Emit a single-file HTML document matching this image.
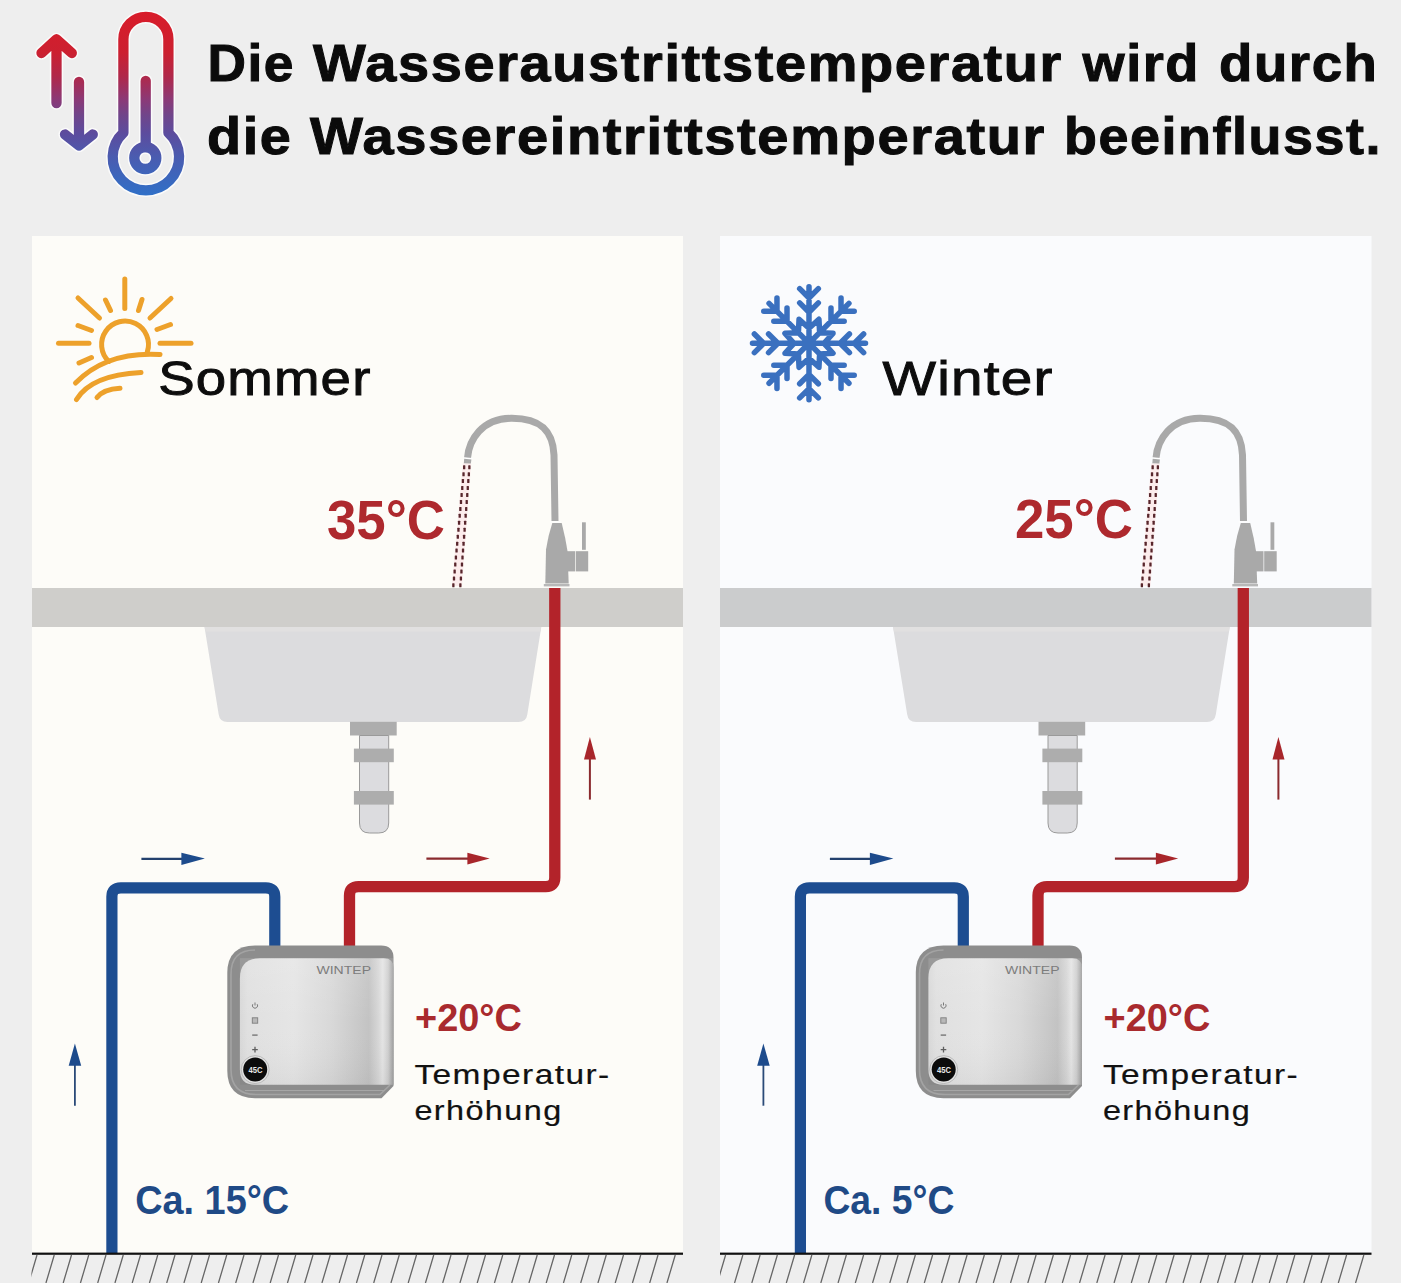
<!DOCTYPE html>
<html><head><meta charset="utf-8"><title>Wassertemperatur</title>
<style>html,body{margin:0;padding:0;background:#eeeeee;width:1401px;height:1283px;overflow:hidden}svg{display:block;font-family:"Liberation Sans",sans-serif}</style>
</head><body><svg width="1401" height="1283" viewBox="0 0 1401 1283"><defs><linearGradient id="thermo" gradientUnits="userSpaceOnUse" x1="0" y1="12" x2="0" y2="196">
<stop offset="0" stop-color="#d81c2a"/><stop offset="0.22" stop-color="#cc2030"/><stop offset="0.35" stop-color="#b0284a"/><stop offset="0.48" stop-color="#8a3a78"/><stop offset="0.56" stop-color="#70458a"/><stop offset="0.66" stop-color="#5c4c9e"/><stop offset="0.79" stop-color="#4a5cb0"/><stop offset="1" stop-color="#2f70c8"/></linearGradient><linearGradient id="face" x1="0" y1="0" x2="1" y2="0">
<stop offset="0" stop-color="#d8d8d8"/><stop offset="0.05" stop-color="#e0e0e0"/><stop offset="0.35" stop-color="#e5e5e5"/><stop offset="0.6" stop-color="#d8d8d8"/><stop offset="0.84" stop-color="#c3c3c3"/><stop offset="0.9" stop-color="#d6d6d6"/><stop offset="0.93" stop-color="#e4e4e4"/><stop offset="0.965" stop-color="#cfcfcf"/><stop offset="1" stop-color="#9e9e9e"/></linearGradient><linearGradient id="facev" x1="0" y1="0" x2="0" y2="1"><stop offset="0" stop-color="#ffffff" stop-opacity="0.12"/><stop offset="0.5" stop-color="#ffffff" stop-opacity="0"/><stop offset="1" stop-color="#000000" stop-opacity="0.04"/></linearGradient>
<linearGradient id="shell" x1="0" y1="0" x2="0" y2="1">
<stop offset="0" stop-color="#8a8a8a"/><stop offset="0.5" stop-color="#9a9a9a"/><stop offset="1" stop-color="#8e8e8e"/></linearGradient></defs><rect x="0" y="0" width="1401" height="1283" fill="#eeeeee"/><rect x="32" y="236" width="651" height="1017" fill="#fdfcf8"/><rect x="720" y="236" width="651.5" height="1017" fill="#fafbfd"/><rect x="32" y="588" width="651" height="39" fill="#cfcecb"/><rect x="720" y="588" width="651.5" height="39" fill="#cbcccd"/><g><path d="M204.5 627 L541.3 627 L527.3 714.5 Q526.3 722 518.5 722 L227.5 722 Q219.7 722 218.7 714.5 Z" fill="#dcdcde"/><path d="M204.7 627 L541.1 627 L540.4 631.5 L205.4 631.5 Z" fill="#e1e0e0"/><rect x="350" y="721.8" width="46.7" height="13.7" fill="#adadad"/><path d="M359.5 735.5 L359.5 823 Q359.5 833 369.5 833 L378.7 833 Q388.7 833 388.7 823 L388.7 735.5 Z" fill="#dcdcdf" stroke="#9a9a9a" stroke-width="1"/><rect x="353.9" y="748.6" width="39.9" height="13.6" fill="#adadad"/><rect x="353.9" y="791" width="39.9" height="13.6" fill="#adadad"/><path d="M554.8 588 L554.8 877.6 Q554.8 886.6 545.8 886.6 L358.5 886.6 Q349.5 886.6 349.5 895.6 L349.5 948" fill="none" stroke="#b3232a" stroke-width="11.3"/><path d="M111.9 1254 L111.9 896.8 Q111.9 887.8 120.9 887.8 L265.8 887.8 Q274.8 887.8 274.8 896.8 L274.8 948" fill="none" stroke="#1d4d91" stroke-width="11.2"/><line x1="141.4" y1="858.9" x2="183" y2="858.9" stroke="#23416e" stroke-width="2.1"/><path d="M181.4 852.8 L204.9 858.6 L181.4 865 Z" fill="#1d4b8c"/><line x1="426.4" y1="858.6" x2="469" y2="858.6" stroke="#8a2a2e" stroke-width="2.1"/><path d="M467.4 852.8 L489.7 858.4 L467.4 864.6 Z" fill="#a8262b"/><line x1="589.9" y1="758" x2="589.9" y2="799.6" stroke="#8b2a2e" stroke-width="2"/><path d="M584 759.4 L589.9 737 L596 759.4 Z" fill="#a8262b"/><line x1="74.9" y1="1064" x2="74.9" y2="1105.7" stroke="#2a4a78" stroke-width="1.8"/><path d="M68.7 1065.8 L74.9 1043.4 L81.2 1065.8 Z" fill="#1d4b8c"/><path d="M467.5 458 C469 440 482 418.5 511 418.3 C542 418 553 432 554 455 L555 521" fill="none" stroke="#a9a9a9" stroke-width="7"/><line x1="463.5" y1="457.8" x2="472.5" y2="458.6" stroke="#ffffff" stroke-width="1.2"/><path d="M464.2 458.8 L471.4 459.4 L470.8 464 L463.8 463.4 Z" fill="#a9a9a9"/><line x1="550" y1="522" x2="561" y2="522" stroke="#ffffff" stroke-width="1.2"/><path d="M552.3 523 L561.7 523 Q565.5 538 567.5 551 L568.7 583.5 L545.3 583.5 L546 549.6 Q548 536 552.3 523 Z" fill="#a9a9a9"/><rect x="567" y="551.2" width="8" height="20.2" fill="#a9a9a9"/><rect x="575.7" y="551.2" width="12.5" height="20.2" fill="#a9a9a9"/><rect x="582" y="522.3" width="3.8" height="27.5" fill="#a9a9a9"/><rect x="543.8" y="584" width="25.7" height="2.4" fill="#b8b8b8"/><path d="M462.8 463.5 L471.2 463.5 L462 586 L451.8 586 Z" fill="#fcecec"/><rect x="463.01" y="465.2" width="2.3" height="4" fill="#58262c" rx="0.5"/><rect x="468.22" y="465.2" width="2.3" height="4" fill="#58262c" rx="0.5"/><rect x="462.38" y="472.15" width="2.3" height="4" fill="#58262c" rx="0.5"/><rect x="467.69" y="472.15" width="2.3" height="4" fill="#58262c" rx="0.5"/><rect x="461.74" y="479.1" width="2.3" height="4" fill="#58262c" rx="0.5"/><rect x="467.16" y="479.1" width="2.3" height="4" fill="#58262c" rx="0.5"/><rect x="461.11" y="486.05" width="2.3" height="4" fill="#58262c" rx="0.5"/><rect x="466.63" y="486.05" width="2.3" height="4" fill="#58262c" rx="0.5"/><rect x="460.47" y="493" width="2.3" height="4" fill="#58262c" rx="0.5"/><rect x="466.1" y="493" width="2.3" height="4" fill="#58262c" rx="0.5"/><rect x="459.84" y="499.95" width="2.3" height="4" fill="#58262c" rx="0.5"/><rect x="465.57" y="499.95" width="2.3" height="4" fill="#58262c" rx="0.5"/><rect x="459.2" y="506.9" width="2.3" height="4" fill="#58262c" rx="0.5"/><rect x="465.04" y="506.9" width="2.3" height="4" fill="#58262c" rx="0.5"/><rect x="458.57" y="513.85" width="2.3" height="4" fill="#58262c" rx="0.5"/><rect x="464.52" y="513.85" width="2.3" height="4" fill="#58262c" rx="0.5"/><rect x="457.93" y="520.8" width="2.3" height="4" fill="#58262c" rx="0.5"/><rect x="463.99" y="520.8" width="2.3" height="4" fill="#58262c" rx="0.5"/><rect x="457.3" y="527.75" width="2.3" height="4" fill="#58262c" rx="0.5"/><rect x="463.46" y="527.75" width="2.3" height="4" fill="#58262c" rx="0.5"/><rect x="456.66" y="534.7" width="2.3" height="4" fill="#58262c" rx="0.5"/><rect x="462.93" y="534.7" width="2.3" height="4" fill="#58262c" rx="0.5"/><rect x="456.03" y="541.65" width="2.3" height="4" fill="#58262c" rx="0.5"/><rect x="462.4" y="541.65" width="2.3" height="4" fill="#58262c" rx="0.5"/><rect x="455.39" y="548.6" width="2.3" height="4" fill="#58262c" rx="0.5"/><rect x="461.87" y="548.6" width="2.3" height="4" fill="#58262c" rx="0.5"/><rect x="454.76" y="555.55" width="2.3" height="4" fill="#58262c" rx="0.5"/><rect x="461.34" y="555.55" width="2.3" height="4" fill="#58262c" rx="0.5"/><rect x="454.12" y="562.5" width="2.3" height="4" fill="#58262c" rx="0.5"/><rect x="460.81" y="562.5" width="2.3" height="4" fill="#58262c" rx="0.5"/><rect x="453.49" y="569.45" width="2.3" height="4" fill="#58262c" rx="0.5"/><rect x="460.28" y="569.45" width="2.3" height="4" fill="#58262c" rx="0.5"/><rect x="452.85" y="576.4" width="2.3" height="4" fill="#58262c" rx="0.5"/><rect x="459.75" y="576.4" width="2.3" height="4" fill="#58262c" rx="0.5"/><rect x="452.22" y="583.35" width="2.3" height="4" fill="#58262c" rx="0.5"/><rect x="459.22" y="583.35" width="2.3" height="4" fill="#58262c" rx="0.5"/><path d="M255 945.5 L381 945.5 Q393.5 945.5 393.5 958 L393.5 1086 L381.5 1098.2 L255 1098.2 Q227.3 1098.2 227.3 1070.5 L227.3 973 Q227.3 945.5 255 945.5 Z" fill="#8d8d8d"/><path d="M255 950 Q231 950 231 974 L231 1069.5 Q231 1094.5 256 1094.5 L380 1094.5 L390 1085" fill="none" stroke="#a3a3a3" stroke-width="1.6"/><path d="M259.9 958.2 L384 958.2 Q393.5 958.2 393.5 967.7 L393.5 1084.7 L254.9 1084.7 Q239.9 1084.7 239.9 1069.7 L239.9 978.2 Q239.9 958.2 259.9 958.2 Z" fill="url(#face)"/><rect x="239.9" y="958.2" width="153.6" height="126.5" fill="url(#facev)"/><line x1="245" y1="1090.5" x2="385" y2="1090.5" stroke="#a6a6a6" stroke-width="1.2"/><text x="316.5" y="973.5" font-family="Liberation Sans" font-size="11.5" fill="#7c7c7c" textLength="54.5" lengthAdjust="spacingAndGlyphs">WINTEP</text><path d="M252.8 1004.2 A2.6 2.6 0 1 0 257.2 1004.2" fill="none" stroke="#7a7a7a" stroke-width="1"/><line x1="255" y1="1002.5" x2="255" y2="1005.5" stroke="#7a7a7a" stroke-width="1"/><rect x="252.3" y="1017.8" width="5.4" height="5.4" fill="#b8b8b8" stroke="#7e7e7e" stroke-width="0.9"/><line x1="252.2" y1="1035.1" x2="257.6" y2="1035.1" stroke="#6e6e6e" stroke-width="1.3"/><path d="M252.2 1049.6 L257.8 1049.6 M255 1046.8 L255 1052.4" stroke="#5e5e5e" stroke-width="1.3"/><circle cx="255.2" cy="1069.6" r="14" fill="#e2e2e2" stroke="#b0b0b0" stroke-width="0.8"/><circle cx="255.2" cy="1069.6" r="12" fill="#0c0c0c"/><text x="255.4" y="1073" font-family="Liberation Sans" font-weight="bold" font-size="9" fill="#e8e8e8" text-anchor="middle" textLength="14" lengthAdjust="spacingAndGlyphs">45C</text><text x="415" y="1031.1" font-family="Liberation Sans" font-weight="bold" font-size="39" fill="#a92a2e" textLength="106.8" lengthAdjust="spacingAndGlyphs">+20°C</text><text x="414.4" y="1084.2" font-family="Liberation Sans" font-size="27.5" letter-spacing="1.2" fill="#111" stroke="#111" stroke-width="0.2" textLength="196.3" lengthAdjust="spacingAndGlyphs">Temperatur-</text><text x="414.4" y="1120.3" font-family="Liberation Sans" font-size="27.5" letter-spacing="1.2" fill="#111" stroke="#111" stroke-width="0.2" textLength="148.2" lengthAdjust="spacingAndGlyphs">erhöhung</text></g><g transform="translate(688.5,0)"><path d="M204.5 627 L541.3 627 L527.3 714.5 Q526.3 722 518.5 722 L227.5 722 Q219.7 722 218.7 714.5 Z" fill="#dcdcde"/><path d="M204.7 627 L541.1 627 L540.4 631.5 L205.4 631.5 Z" fill="#e1e0e0"/><rect x="350" y="721.8" width="46.7" height="13.7" fill="#adadad"/><path d="M359.5 735.5 L359.5 823 Q359.5 833 369.5 833 L378.7 833 Q388.7 833 388.7 823 L388.7 735.5 Z" fill="#dcdcdf" stroke="#9a9a9a" stroke-width="1"/><rect x="353.9" y="748.6" width="39.9" height="13.6" fill="#adadad"/><rect x="353.9" y="791" width="39.9" height="13.6" fill="#adadad"/><path d="M554.8 588 L554.8 877.6 Q554.8 886.6 545.8 886.6 L358.5 886.6 Q349.5 886.6 349.5 895.6 L349.5 948" fill="none" stroke="#b3232a" stroke-width="11.3"/><path d="M111.9 1254 L111.9 896.8 Q111.9 887.8 120.9 887.8 L265.8 887.8 Q274.8 887.8 274.8 896.8 L274.8 948" fill="none" stroke="#1d4d91" stroke-width="11.2"/><line x1="141.4" y1="858.9" x2="183" y2="858.9" stroke="#23416e" stroke-width="2.1"/><path d="M181.4 852.8 L204.9 858.6 L181.4 865 Z" fill="#1d4b8c"/><line x1="426.4" y1="858.6" x2="469" y2="858.6" stroke="#8a2a2e" stroke-width="2.1"/><path d="M467.4 852.8 L489.7 858.4 L467.4 864.6 Z" fill="#a8262b"/><line x1="589.9" y1="758" x2="589.9" y2="799.6" stroke="#8b2a2e" stroke-width="2"/><path d="M584 759.4 L589.9 737 L596 759.4 Z" fill="#a8262b"/><line x1="74.9" y1="1064" x2="74.9" y2="1105.7" stroke="#2a4a78" stroke-width="1.8"/><path d="M68.7 1065.8 L74.9 1043.4 L81.2 1065.8 Z" fill="#1d4b8c"/><path d="M467.5 458 C469 440 482 418.5 511 418.3 C542 418 553 432 554 455 L555 521" fill="none" stroke="#a9a9a9" stroke-width="7"/><line x1="463.5" y1="457.8" x2="472.5" y2="458.6" stroke="#ffffff" stroke-width="1.2"/><path d="M464.2 458.8 L471.4 459.4 L470.8 464 L463.8 463.4 Z" fill="#a9a9a9"/><line x1="550" y1="522" x2="561" y2="522" stroke="#ffffff" stroke-width="1.2"/><path d="M552.3 523 L561.7 523 Q565.5 538 567.5 551 L568.7 583.5 L545.3 583.5 L546 549.6 Q548 536 552.3 523 Z" fill="#a9a9a9"/><rect x="567" y="551.2" width="8" height="20.2" fill="#a9a9a9"/><rect x="575.7" y="551.2" width="12.5" height="20.2" fill="#a9a9a9"/><rect x="582" y="522.3" width="3.8" height="27.5" fill="#a9a9a9"/><rect x="543.8" y="584" width="25.7" height="2.4" fill="#b8b8b8"/><path d="M462.8 463.5 L471.2 463.5 L462 586 L451.8 586 Z" fill="#fcecec"/><rect x="463.01" y="465.2" width="2.3" height="4" fill="#58262c" rx="0.5"/><rect x="468.22" y="465.2" width="2.3" height="4" fill="#58262c" rx="0.5"/><rect x="462.38" y="472.15" width="2.3" height="4" fill="#58262c" rx="0.5"/><rect x="467.69" y="472.15" width="2.3" height="4" fill="#58262c" rx="0.5"/><rect x="461.74" y="479.1" width="2.3" height="4" fill="#58262c" rx="0.5"/><rect x="467.16" y="479.1" width="2.3" height="4" fill="#58262c" rx="0.5"/><rect x="461.11" y="486.05" width="2.3" height="4" fill="#58262c" rx="0.5"/><rect x="466.63" y="486.05" width="2.3" height="4" fill="#58262c" rx="0.5"/><rect x="460.47" y="493" width="2.3" height="4" fill="#58262c" rx="0.5"/><rect x="466.1" y="493" width="2.3" height="4" fill="#58262c" rx="0.5"/><rect x="459.84" y="499.95" width="2.3" height="4" fill="#58262c" rx="0.5"/><rect x="465.57" y="499.95" width="2.3" height="4" fill="#58262c" rx="0.5"/><rect x="459.2" y="506.9" width="2.3" height="4" fill="#58262c" rx="0.5"/><rect x="465.04" y="506.9" width="2.3" height="4" fill="#58262c" rx="0.5"/><rect x="458.57" y="513.85" width="2.3" height="4" fill="#58262c" rx="0.5"/><rect x="464.52" y="513.85" width="2.3" height="4" fill="#58262c" rx="0.5"/><rect x="457.93" y="520.8" width="2.3" height="4" fill="#58262c" rx="0.5"/><rect x="463.99" y="520.8" width="2.3" height="4" fill="#58262c" rx="0.5"/><rect x="457.3" y="527.75" width="2.3" height="4" fill="#58262c" rx="0.5"/><rect x="463.46" y="527.75" width="2.3" height="4" fill="#58262c" rx="0.5"/><rect x="456.66" y="534.7" width="2.3" height="4" fill="#58262c" rx="0.5"/><rect x="462.93" y="534.7" width="2.3" height="4" fill="#58262c" rx="0.5"/><rect x="456.03" y="541.65" width="2.3" height="4" fill="#58262c" rx="0.5"/><rect x="462.4" y="541.65" width="2.3" height="4" fill="#58262c" rx="0.5"/><rect x="455.39" y="548.6" width="2.3" height="4" fill="#58262c" rx="0.5"/><rect x="461.87" y="548.6" width="2.3" height="4" fill="#58262c" rx="0.5"/><rect x="454.76" y="555.55" width="2.3" height="4" fill="#58262c" rx="0.5"/><rect x="461.34" y="555.55" width="2.3" height="4" fill="#58262c" rx="0.5"/><rect x="454.12" y="562.5" width="2.3" height="4" fill="#58262c" rx="0.5"/><rect x="460.81" y="562.5" width="2.3" height="4" fill="#58262c" rx="0.5"/><rect x="453.49" y="569.45" width="2.3" height="4" fill="#58262c" rx="0.5"/><rect x="460.28" y="569.45" width="2.3" height="4" fill="#58262c" rx="0.5"/><rect x="452.85" y="576.4" width="2.3" height="4" fill="#58262c" rx="0.5"/><rect x="459.75" y="576.4" width="2.3" height="4" fill="#58262c" rx="0.5"/><rect x="452.22" y="583.35" width="2.3" height="4" fill="#58262c" rx="0.5"/><rect x="459.22" y="583.35" width="2.3" height="4" fill="#58262c" rx="0.5"/><path d="M255 945.5 L381 945.5 Q393.5 945.5 393.5 958 L393.5 1086 L381.5 1098.2 L255 1098.2 Q227.3 1098.2 227.3 1070.5 L227.3 973 Q227.3 945.5 255 945.5 Z" fill="#8d8d8d"/><path d="M255 950 Q231 950 231 974 L231 1069.5 Q231 1094.5 256 1094.5 L380 1094.5 L390 1085" fill="none" stroke="#a3a3a3" stroke-width="1.6"/><path d="M259.9 958.2 L384 958.2 Q393.5 958.2 393.5 967.7 L393.5 1084.7 L254.9 1084.7 Q239.9 1084.7 239.9 1069.7 L239.9 978.2 Q239.9 958.2 259.9 958.2 Z" fill="url(#face)"/><rect x="239.9" y="958.2" width="153.6" height="126.5" fill="url(#facev)"/><line x1="245" y1="1090.5" x2="385" y2="1090.5" stroke="#a6a6a6" stroke-width="1.2"/><text x="316.5" y="973.5" font-family="Liberation Sans" font-size="11.5" fill="#7c7c7c" textLength="54.5" lengthAdjust="spacingAndGlyphs">WINTEP</text><path d="M252.8 1004.2 A2.6 2.6 0 1 0 257.2 1004.2" fill="none" stroke="#7a7a7a" stroke-width="1"/><line x1="255" y1="1002.5" x2="255" y2="1005.5" stroke="#7a7a7a" stroke-width="1"/><rect x="252.3" y="1017.8" width="5.4" height="5.4" fill="#b8b8b8" stroke="#7e7e7e" stroke-width="0.9"/><line x1="252.2" y1="1035.1" x2="257.6" y2="1035.1" stroke="#6e6e6e" stroke-width="1.3"/><path d="M252.2 1049.6 L257.8 1049.6 M255 1046.8 L255 1052.4" stroke="#5e5e5e" stroke-width="1.3"/><circle cx="255.2" cy="1069.6" r="14" fill="#e2e2e2" stroke="#b0b0b0" stroke-width="0.8"/><circle cx="255.2" cy="1069.6" r="12" fill="#0c0c0c"/><text x="255.4" y="1073" font-family="Liberation Sans" font-weight="bold" font-size="9" fill="#e8e8e8" text-anchor="middle" textLength="14" lengthAdjust="spacingAndGlyphs">45C</text><text x="415" y="1031.1" font-family="Liberation Sans" font-weight="bold" font-size="39" fill="#a92a2e" textLength="106.8" lengthAdjust="spacingAndGlyphs">+20°C</text><text x="414.4" y="1084.2" font-family="Liberation Sans" font-size="27.5" letter-spacing="1.2" fill="#111" stroke="#111" stroke-width="0.2" textLength="196.3" lengthAdjust="spacingAndGlyphs">Temperatur-</text><text x="414.4" y="1120.3" font-family="Liberation Sans" font-size="27.5" letter-spacing="1.2" fill="#111" stroke="#111" stroke-width="0.2" textLength="148.2" lengthAdjust="spacingAndGlyphs">erhöhung</text></g><rect x="32" y="1252.6" width="651" height="2.2" fill="#111"/><rect x="720" y="1252.6" width="651.5" height="2.2" fill="#111"/><clipPath id="hc"><rect x="31.4" y="1254" width="652" height="30"/><rect x="720" y="1254" width="652" height="30"/></clipPath><path d="M37 1255 L28.7 1283 M54.25 1255 L45.95 1283 M71.5 1255 L63.2 1283 M88.75 1255 L80.45 1283 M106 1255 L97.7 1283 M123.25 1255 L114.95 1283 M140.5 1255 L132.2 1283 M157.75 1255 L149.45 1283 M175 1255 L166.7 1283 M192.25 1255 L183.95 1283 M209.5 1255 L201.2 1283 M226.75 1255 L218.45 1283 M244 1255 L235.7 1283 M261.25 1255 L252.95 1283 M278.5 1255 L270.2 1283 M295.75 1255 L287.45 1283 M313 1255 L304.7 1283 M330.25 1255 L321.95 1283 M347.5 1255 L339.2 1283 M364.75 1255 L356.45 1283 M382 1255 L373.7 1283 M399.25 1255 L390.95 1283 M416.5 1255 L408.2 1283 M433.75 1255 L425.45 1283 M451 1255 L442.7 1283 M468.25 1255 L459.95 1283 M485.5 1255 L477.2 1283 M502.75 1255 L494.45 1283 M520 1255 L511.7 1283 M537.25 1255 L528.95 1283 M554.5 1255 L546.2 1283 M571.75 1255 L563.45 1283 M589 1255 L580.7 1283 M606.25 1255 L597.95 1283 M623.5 1255 L615.2 1283 M640.75 1255 L632.45 1283 M658 1255 L649.7 1283 M675.25 1255 L666.95 1283 M725.6 1255 L717.3 1283 M742.85 1255 L734.55 1283 M760.1 1255 L751.8 1283 M777.35 1255 L769.05 1283 M794.6 1255 L786.3 1283 M811.85 1255 L803.55 1283 M829.1 1255 L820.8 1283 M846.35 1255 L838.05 1283 M863.6 1255 L855.3 1283 M880.85 1255 L872.55 1283 M898.1 1255 L889.8 1283 M915.35 1255 L907.05 1283 M932.6 1255 L924.3 1283 M949.85 1255 L941.55 1283 M967.1 1255 L958.8 1283 M984.35 1255 L976.05 1283 M1001.6 1255 L993.3 1283 M1018.85 1255 L1010.55 1283 M1036.1 1255 L1027.8 1283 M1053.35 1255 L1045.05 1283 M1070.6 1255 L1062.3 1283 M1087.85 1255 L1079.55 1283 M1105.1 1255 L1096.8 1283 M1122.35 1255 L1114.05 1283 M1139.6 1255 L1131.3 1283 M1156.85 1255 L1148.55 1283 M1174.1 1255 L1165.8 1283 M1191.35 1255 L1183.05 1283 M1208.6 1255 L1200.3 1283 M1225.85 1255 L1217.55 1283 M1243.1 1255 L1234.8 1283 M1260.35 1255 L1252.05 1283 M1277.6 1255 L1269.3 1283 M1294.85 1255 L1286.55 1283 M1312.1 1255 L1303.8 1283 M1329.35 1255 L1321.05 1283 M1346.6 1255 L1338.3 1283 M1363.85 1255 L1355.55 1283" stroke="#666" stroke-width="1.3" fill="none" clip-path="url(#hc)"/><g font-family="Liberation Sans" font-weight="bold" font-size="52" letter-spacing="1.5" fill="#0b0b0b" stroke="#0b0b0b" stroke-width="1.0"><text x="207.50" y="81" textLength="87.50" lengthAdjust="spacingAndGlyphs">Die</text><text x="313.00" y="81" textLength="750.00" lengthAdjust="spacingAndGlyphs">Wasseraustrittstemperatur</text><text x="1082.50" y="81" textLength="117.50" lengthAdjust="spacingAndGlyphs">wird</text><text x="1219.00" y="81" textLength="159.50" lengthAdjust="spacingAndGlyphs">durch</text><text x="207.00" y="153.5" textLength="85.50" lengthAdjust="spacingAndGlyphs">die</text><text x="310.00" y="153.5" textLength="736.00" lengthAdjust="spacingAndGlyphs">Wassereintrittstemperatur</text><text x="1064.00" y="153.5" textLength="318.00" lengthAdjust="spacingAndGlyphs">beeinflusst.</text></g><g fill="none" stroke="#ffffff" stroke-opacity="0.75" stroke-width="13.3" stroke-linecap="round" stroke-linejoin="round"><path d="M123.4 132.7 L123.4 39.3 A22.5 22.5 0 0 1 168.4 39.3 L168.4 132.7 A33.2 33.2 0 1 1 123.4 132.7"/><path d="M145.7 81 L145.7 147"/><circle cx="145.3" cy="158" r="11"/><path d="M56.5 103 L56.5 40 M41.5 53 L56.5 39.3 L71.8 53"/><path d="M79 82 L79 145 M65 134.5 L79 145.5 L92.8 134.5"/></g><g fill="none" stroke="url(#thermo)" stroke-width="10.3" stroke-linecap="round" stroke-linejoin="round"><path d="M123.4 132.7 L123.4 39.3 A22.5 22.5 0 0 1 168.4 39.3 L168.4 132.7 A33.2 33.2 0 1 1 123.4 132.7"/><path d="M145.7 81 L145.7 147"/><circle cx="145.3" cy="158" r="11"/><path d="M56.5 103 L56.5 40 M41.5 53 L56.5 39.3 L71.8 53"/><path d="M79 82 L79 145 M65 134.5 L79 145.5 L92.8 134.5"/></g><g fill="none" stroke="#eda12b" stroke-width="5" stroke-linecap="round"><line x1="124.8" y1="279" x2="124.8" y2="308.5"/><line x1="78" y1="298" x2="99.5" y2="318"/><line x1="105.5" y1="300" x2="110.5" y2="310.5"/><line x1="142" y1="299.5" x2="138.5" y2="310.5"/><line x1="171" y1="298.5" x2="150" y2="318"/><line x1="78" y1="325.5" x2="91.5" y2="330.5"/><line x1="170.5" y1="324.5" x2="157" y2="329.5"/><line x1="58.5" y1="343.3" x2="89" y2="343.3"/><line x1="160" y1="343.3" x2="191" y2="343.3"/><line x1="91.5" y1="357.5" x2="79" y2="363"/><path d="M108.76 361.42 A23.45 23.45 0 1 1 147.35 351.8"/><path d="M75.5 383 Q106.25 351.25 160 354.5"/><path d="M76.5 399.5 Q91.25 375 141 372.5"/><path d="M97 397.5 Q103.5 389 120 388.2"/></g><text x="158.2" y="395" font-family="Liberation Sans" font-size="47.5" letter-spacing="1" fill="#0d0d0d" stroke="#0d0d0d" stroke-width="0.9" textLength="213.3" lengthAdjust="spacingAndGlyphs">Sommer</text><path d="M809 343.3 L809 286.8 M799.67 288.67 L809 298 L818.33 288.67 M799.67 302.87 L809 312.2 L818.33 302.87 M809 343.3 L848.95 303.35 M841.03 298.07 L841.03 311.27 L854.23 311.27 M830.99 308.11 L830.99 321.31 L844.19 321.31 M809 343.3 L865.5 343.3 M863.63 333.97 L854.3 343.3 L863.63 352.63 M849.43 333.97 L840.1 343.3 L849.43 352.63 M809 343.3 L848.95 383.25 M854.23 375.33 L841.03 375.33 L841.03 388.53 M844.19 365.29 L830.99 365.29 L830.99 378.49 M809 343.3 L809 399.8 M818.33 397.93 L809 388.6 L799.67 397.93 M818.33 383.73 L809 374.4 L799.67 383.73 M809 343.3 L769.05 383.25 M776.97 388.53 L776.97 375.33 L763.77 375.33 M787.01 378.49 L787.01 365.29 L773.81 365.29 M809 343.3 L752.5 343.3 M754.37 352.63 L763.7 343.3 L754.37 333.97 M768.57 352.63 L777.9 343.3 L768.57 333.97 M809 343.3 L769.05 303.35 M763.77 311.27 L776.97 311.27 L776.97 298.07 M773.81 321.31 L787.01 321.31 L787.01 308.11 M809 328.3 L818.95 319.28 L819.61 332.69 L833.02 333.35 L824 343.3 L833.02 353.25 L819.61 353.91 L818.95 367.32 L809 358.3 L799.05 367.32 L798.39 353.91 L784.98 353.25 L794 343.3 L784.98 333.35 L798.39 332.69 L799.05 319.28 Z" fill="none" stroke="#3a70bf" stroke-width="5.5" stroke-linecap="round" stroke-linejoin="round"/><text x="882.5" y="394.7" font-family="Liberation Sans" font-size="47.5" letter-spacing="1" fill="#0d0d0d" stroke="#0d0d0d" stroke-width="0.9" textLength="171" lengthAdjust="spacingAndGlyphs">Winter</text><text x="327" y="538.5" font-family="Liberation Sans" font-weight="bold" font-size="55.5" fill="#ae292e" textLength="118" lengthAdjust="spacingAndGlyphs">35°C</text><text x="1015" y="538.3" font-family="Liberation Sans" font-weight="bold" font-size="55.5" fill="#ae292e" textLength="118" lengthAdjust="spacingAndGlyphs">25°C</text><text x="135.2" y="1214.3" font-family="Liberation Sans" font-weight="bold" font-size="40" fill="#1f4a86" textLength="154" lengthAdjust="spacingAndGlyphs">Ca. 15°C</text><text x="823.4" y="1214.3" font-family="Liberation Sans" font-weight="bold" font-size="40" fill="#1f4a86" textLength="131.1" lengthAdjust="spacingAndGlyphs">Ca. 5°C</text></svg></body></html>
